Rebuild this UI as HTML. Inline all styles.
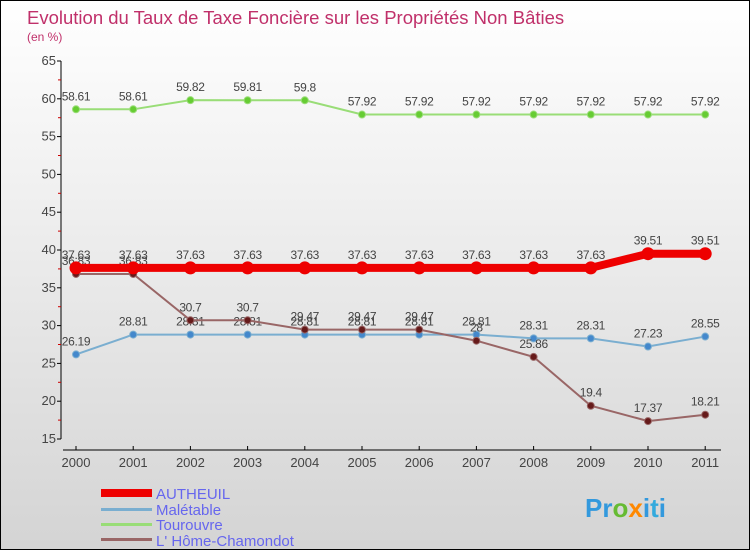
<!DOCTYPE html>
<html><head><meta charset="utf-8"><style>
body{margin:0}
#c{width:748px;height:548px;border:1px solid #000;background:linear-gradient(#ffffff,#d4d4d4);position:relative;font-family:"Liberation Sans",sans-serif}
</style></head><body>
<div id="c">
<svg id="s" width="748" height="548" xmlns="http://www.w3.org/2000/svg" font-family="Liberation Sans, sans-serif">
<text x="26" y="23" font-size="18.5" fill="#c0306a">Evolution du Taux de Taxe Foncière sur les Propriétés Non Bâties</text>
<text x="26" y="40" font-size="12" fill="#c0306a">(en %)</text>
<g id="axes"></g><g id="series"></g>
<g>
<rect x="100" y="488" width="51" height="8" fill="#ee0000"/>
<text x="155" y="498" font-size="15" fill="#6666ee">AUTHEUIL</text>
<rect x="100" y="507" width="51" height="3" fill="#7aaed0"/>
<text x="155" y="514" font-size="15" fill="#6666ee">Malétable</text>
<rect x="100" y="522" width="51" height="3" fill="#99dd77"/>
<text x="155" y="529" font-size="15" fill="#6666ee">Tourouvre</text>
<rect x="100" y="537" width="51" height="3" fill="#996666"/>
<text x="155" y="545" font-size="15" fill="#6666ee">L' Hôme-Chamondot</text>
</g>
<text x="584" y="516" font-size="26" font-weight="bold" fill="#3399dd">Pr<tspan fill="#66bb33">o</tspan><tspan fill="#ff8800">x</tspan>i<tspan fill="#33aadd">t</tspan>i</text>
</svg></div>
<script>
const years=[2000,2001,2002,2003,2004,2005,2006,2007,2008,2009,2010,2011];
const autheuil=[37.63,37.63,37.63,37.63,37.63,37.63,37.63,37.63,37.63,37.63,39.51,39.51];
const maletable=[26.19,28.81,28.81,28.81,28.81,28.81,28.81,28.81,28.31,28.31,27.23,28.55];
const tourouvre=[58.61,58.61,59.82,59.81,59.8,57.92,57.92,57.92,57.92,57.92,57.92,57.92];
const lhome=[36.83,36.83,30.7,30.7,29.47,29.47,29.47,28,25.86,19.4,17.37,18.21];
const yTicks=[15,20,25,30,35,40,45,50,55,60,65];
const NS="http://www.w3.org/2000/svg";
const X=i=>75+i*57.2, Y=v=>438-(v-15)*7.56;
function mk(t,a,p){const e=document.createElementNS(NS,t);for(const k in a)e.setAttribute(k,a[k]);p.appendChild(e);return e;}
const ax=document.getElementById('axes'), se=document.getElementById('series');
let l=mk('line',{x1:60,y1:Y(65),x2:60,y2:Y(15),stroke:'#000'},ax);


yTicks.forEach(v=>{mk('line',{x1:56,y1:Y(v),x2:60,y2:Y(v),stroke:'#000'},ax);
 if(v<65)mk('line',{x1:57,y1:Y(v+2.5),x2:60,y2:Y(v+2.5),stroke:'#c00'},ax);
 const t=mk('text',{x:55,y:Y(v)+4,'font-size':13,fill:'#444','text-anchor':'end'},ax);t.textContent=v;
 
 });
l=mk('line',{x1:62,y1:449,x2:720,y2:449,stroke:'#000'},ax);


years.forEach((y,i)=>{mk('line',{x1:X(i),y1:445,x2:X(i),y2:449,stroke:'#000'},ax);
 const t=mk('text',{x:X(i),y:466,'font-size':13,fill:'#444','text-anchor':'middle'},ax);t.textContent=y;
 
 });
function draw(vals,col,w,r,dot,name){
 const g=mk('g',{},se);
 
 
 mk('polyline',{points:vals.map((v,i)=>X(i)+','+Y(v)).join(' '),fill:'none',stroke:col,'stroke-width':w},g);
 vals.forEach((v,i)=>{const c=mk('circle',{cx:X(i),cy:Y(v),r:r,fill:dot,stroke:col,'stroke-width':1},g);
  
  
  const t=mk('text',{x:X(i),y:Y(v)-9,'font-size':12,fill:'#444','text-anchor':'middle','letter-spacing':'-0.3'},g);t.textContent=v;
  
  });
}
draw(tourouvre,'#99dd77',2,3.5,'#66cc33','tourouvre');
draw(maletable,'#7aaed0',2,3.5,'#4488cc','maletable');
draw(lhome,'#996666',2,3.5,'#661a1a','lhome-chamondot');
draw(autheuil,'#ee0000',8,6,'#ee0000','autheuil');
</script></body></html>
